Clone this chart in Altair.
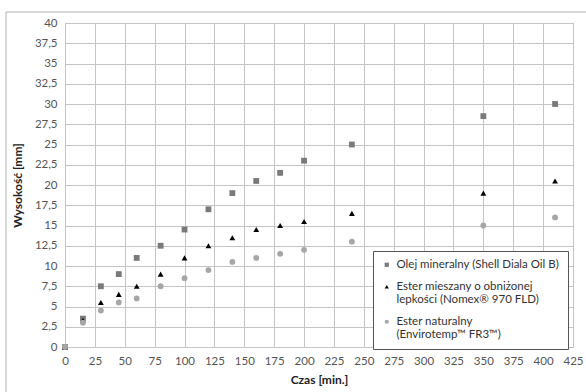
import altair as alt
import pandas as pd

time = [0, 15, 30, 45, 60, 80, 100, 120, 140, 160, 180, 200, 240, 350, 410]
mineral = [0, 3.5, 7.5, 9, 11, 12.5, 14.5, 17, 19, 20.5, 21.5, 23, 25, 28.5, 30]
mixed = [0, 3.3, 5.5, 6.5, 7.5, 9, 11, 12.5, 13.5, 14.5, 15, 15.5, 16.5, 19, 20.5]
natural = [0, 3, 4.5, 5.5, 6, 7.5, 8.5, 9.5, 10.5, 11, 11.5, 12, 13, 15, 16]

names = [
    "Olej mineralny (Shell Diala Oil B)",
    "Ester mieszany o obniżonej|lepkości  (Nomex® 970 FLD)",
    "Ester naturalny|(Envirotemp™ FR3™)",
]

rows = []
for name, vals in zip(names, [mineral, mixed, natural]):
    for t, v in zip(time, vals):
        rows.append({"t": t, "h": v, "s": name})
df = pd.DataFrame(rows)

FONT = "Lato"

points = alt.Chart(df).mark_point(filled=True, opacity=1).encode(
    x=alt.X("t:Q", title="Czas [min.]",
            scale=alt.Scale(domain=[0, 425], nice=False),
            axis=alt.Axis(values=list(range(0, 426, 25)), labelOverlap=False, labelFlush=False)),
    y=alt.Y("h:Q", title="Wysokość [mm]",
            scale=alt.Scale(domain=[0, 40], nice=False),
            axis=alt.Axis(values=[i * 2.5 for i in range(17)], labelOverlap=False, labelFlush=False,
                          labelExpr="replace(toString(datum.value), '.', ',')")),
    shape=alt.Shape("s:N", sort=names,
                    scale=alt.Scale(domain=names, range=["square", "triangle-up", "circle"]),
                    legend=alt.Legend(title=None, orient="none", legendX=308, legendY=228,
                                      labelExpr="split(datum.label, '|')",
                                      labelLimit=300, labelFontSize=11.5,
                                      labelColor="#333333", symbolSize=18,
                                      rowPadding=9, padding=8,
                                      strokeColor="#555555", fillColor="white",
                                      labelFont=FONT)),
    color=alt.Color("s:N", sort=names,
                    scale=alt.Scale(domain=names, range=["#7a7a7a", "#000000", "#a6a6a6"])),
    size=alt.value(34),
)

frame = pd.DataFrame({"x0": [-59.0], "y0": [-11.0], "x1": [540.0], "y1": [380.0]})
left_frame = alt.Chart(frame).mark_rule(color="#b0b0b0", strokeWidth=1, clip=False).encode(
    x=alt.XValue(-59), y=alt.YValue(-11), y2=alt.YValue(380)
)
top_frame = alt.Chart(frame).mark_rule(color="#b0b0b0", strokeWidth=1, clip=False).encode(
    x=alt.XValue(-59), x2=alt.XValue(540), y=alt.YValue(-11)
)

chart = alt.layer(points, left_frame, top_frame).properties(
    width=508, height=324,
    padding={"left": 65, "top": 23, "right": 13, "bottom": 45},
    autosize=alt.AutoSizeParams(type="none"),
).configure_view(
    stroke="#bdbdbd"
).configure_axis(
    gridColor="#c4c4c4", gridWidth=1, domain=False, ticks=False,
    labelFont=FONT, labelFontSize=11.5, labelColor="#555555", labelPadding=8,
    titleFont=FONT, titleFontSize=12, titleFontWeight="bold", titleColor="#222222",
).configure_axisY(titlePadding=10).configure_axisX(titlePadding=8)

chart.save("out.html", embed_options={"renderer": "svg", "actions": False})
